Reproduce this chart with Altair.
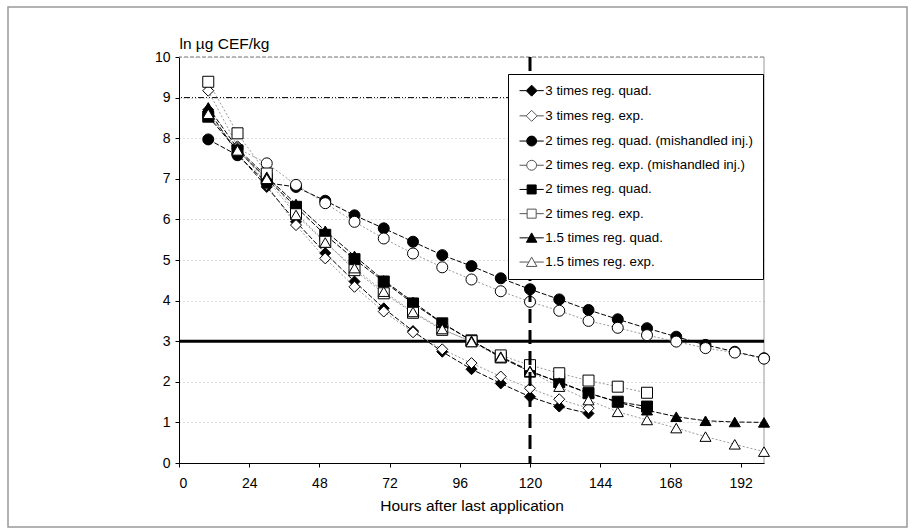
import altair as alt
import pandas as pd

FONT = "Liberation Sans"

series_names = [
    "3 times reg. quad.",
    "3 times reg. exp.",
    "2 times reg. quad. (mishandled inj.)",
    "2 times reg. exp. (mishandled inj.)",
    "2 times reg. quad.",
    "2 times reg. exp.",
    "1.5 times reg. quad.",
    "1.5 times reg. exp.",
]
series_kind = ["quad", "exp", "quad", "exp", "quad", "exp", "quad", "exp"]
series_group = [0, 0, 1, 1, 2, 2, 3, 3]
group_shapes = ["diamond", "circle", "square", "triangle-up"]
marker_fills = ["black", "white", "black", "white", "black", "white", "black", "white"]
legend_strokes = ["black", "#555555", "black", "#555555", "black", "#555555", "black", "#555555"]
legend_paths = [
    "M-2.2,0H-1M1,0H2.2M0,-1L1,0L0,1L-1,0Z",
    "M-2.2,0H-1M1,0H2.2M0,-1L1,0L0,1L-1,0Z",
    "M-2.2,0H-0.9M0.9,0H2.2M0.9,0A0.9,0.9,0,1,1,-0.9,0A0.9,0.9,0,1,1,0.9,0Z",
    "M-2.2,0H-0.9M0.9,0H2.2M0.9,0A0.9,0.9,0,1,1,-0.9,0A0.9,0.9,0,1,1,0.9,0Z",
    "M-2.2,0H-0.82M0.82,0H2.2M-0.82,-0.82H0.82V0.82H-0.82Z",
    "M-2.2,0H-0.82M0.82,0H2.2M-0.82,-0.82H0.82V0.82H-0.82Z",
    "M-2.2,0H-0.5M0.5,0H2.2M0,-0.9L0.95,0.8H-0.95Z",
    "M-2.2,0H-0.5M0.5,0H2.2M0,-0.9L0.95,0.8H-0.95Z",
]

hours_to_140 = [10, 20, 30, 40, 50, 60, 70, 80, 90, 100, 110, 120, 130, 140]
hours_to_160 = [10, 20, 30, 40, 50, 60, 70, 80, 90, 100, 110, 120, 130, 140, 150, 160]
hours_to_200 = [10, 20, 30, 40, 50, 60, 70, 80, 90, 100, 110, 120, 130, 140, 150, 160, 170, 180, 190, 200]

vals_3_quad = [8.70, 7.62, 6.80, 5.94, 5.17, 4.47, 3.81, 3.25, 2.74, 2.31, 1.96, 1.63, 1.39, 1.22]
vals_3_exp = [9.17, 7.80, 6.85, 5.86, 5.04, 4.34, 3.73, 3.22, 2.80, 2.46, 2.13, 1.84, 1.57, 1.35]
vals_2m_quad = [7.97, 7.58, 6.90, 6.80, 6.46, 6.10, 5.78, 5.45, 5.12, 4.85, 4.55, 4.28, 4.03, 3.77,
                3.54, 3.32, 3.11, 2.91, 2.74, 2.58]
vals_2m_exp = [8.55, 7.75, 7.38, 6.85, 6.40, 5.94, 5.53, 5.16, 4.82, 4.52, 4.23, 3.97, 3.75, 3.50,
               3.33, 3.15, 2.99, 2.83, 2.72, 2.57]
vals_2_quad = [8.53, 7.70, 7.00, 6.31, 5.62, 5.02, 4.47, 3.93, 3.44, 3.02, 2.60, 2.25, 2.00, 1.72, 1.51, 1.39]
vals_2_exp = [9.39, 8.12, 7.13, 6.15, 5.45, 4.75, 4.18, 3.70, 3.28, 3.00, 2.65, 2.41, 2.21, 2.03, 1.88, 1.73]
vals_15_quad = [8.76, 7.75, 7.05, 6.38, 5.72, 5.10, 4.50, 3.97, 3.45, 3.01, 2.62, 2.27, 1.98, 1.72,
                1.50, 1.30, 1.14, 1.04, 1.01, 1.00]
vals_15_exp = [8.60, 7.70, 7.00, 6.11, 5.43, 4.80, 4.22, 3.72, 3.30, 2.98, 2.60, 2.25, 1.88, 1.55,
               1.26, 1.06, 0.86, 0.65, 0.46, 0.28]

x_ticks = [0, 24, 48, 72, 96, 120, 144, 168, 192]
y_ticks = [0, 1, 2, 3, 4, 5, 6, 7, 8, 9, 10]
limit_level = [3]
dotted_level = [9]
top_level = [10]
right_edge = [200]
time_mark = [120]

series_hours = [hours_to_140, hours_to_140, hours_to_200, hours_to_200,
                hours_to_160, hours_to_160, hours_to_200, hours_to_200]
series_vals = [vals_3_quad, vals_3_exp, vals_2m_quad, vals_2m_exp,
               vals_2_quad, vals_2_exp, vals_15_quad, vals_15_exp]

rows = []
for i, name in enumerate(series_names):
    for h, v in zip(series_hours[i], series_vals[i]):
        rows.append({"series": name, "kind": series_kind[i], "grp": series_group[i], "hours": h, "v": v})
df = pd.DataFrame(rows)

xscale = alt.Scale(domain=[0, 200], nice=False, zero=False)
yscale = alt.Scale(domain=[0, 10], nice=False)

xaxis = alt.Axis(values=x_ticks, grid=False, domainColor="black", tickColor="black", tickSize=4,
                 labelFont=FONT, labelFontSize=14, labelColor="black", labelPadding=9,
                 title="Hours after last application", titleFont=FONT, titleFontSize=15.5,
                 titleFontWeight="normal", titleColor="black", titlePadding=8)
yaxis = alt.Axis(values=y_ticks, grid=True, gridColor="#bbbbbb", gridDash=[1, 3], gridWidth=1,
                 domainColor="black", tickColor="black", tickSize=4,
                 labelFont=FONT, labelFontSize=14, labelColor="black", labelPadding=5,
                 title="ln µg CEF/kg", titleFont=FONT, titleFontSize=15.5, titleFontWeight="normal",
                 titleColor="black", titleAngle=0, titleAlign="left", titleBaseline="alphabetic",
                 titleX=0, titleY=-9)

X = alt.X("hours:Q", scale=xscale, axis=xaxis)
Y = alt.Y("v:Q", scale=yscale, axis=yaxis)

base = alt.Chart(df)

top_border = alt.Chart(pd.DataFrame({"v": top_level})).mark_rule(
    color="#777777", strokeWidth=1, strokeDash=[4, 2]).encode(y=Y)
right_border = alt.Chart(pd.DataFrame({"hours": right_edge})).mark_rule(
    color="#999999", strokeWidth=1).encode(x=X)
line9 = alt.Chart(pd.DataFrame({"v": dotted_level})).mark_rule(
    color="black", strokeWidth=1, strokeDash=[6, 2, 1, 2, 1, 2]).encode(y=Y)
line3 = alt.Chart(pd.DataFrame({"v": limit_level})).mark_rule(
    color="black", strokeWidth=3).encode(y=Y)
vline = alt.Chart(pd.DataFrame({"hours": time_mark})).mark_rule(
    color="black", strokeWidth=3, strokeDash=[14, 7]).encode(x=X)

exp_lines = base.transform_filter(alt.datum.kind == "exp").mark_line(
    color="#9a9a9a", strokeWidth=1, strokeDash=[2, 2]).encode(x=X, y=Y, detail="series:N")
quad_lines = base.transform_filter(alt.datum.kind == "quad").mark_line(
    color="black", strokeWidth=1, strokeDash=[5, 2]).encode(x=X, y=Y, detail="series:N")

fill_scale = alt.Scale(domain=series_names, range=marker_fills)

legend_def = alt.Legend(title=None, orient="none", legendX=329, legendY=17, padding=10,
                        fillColor="white", strokeColor="black", symbolSize=121,
                        symbolStrokeWidth=1, symbolOffset=7,
                        labelOffset=7, labelFont=FONT, labelFontSize=13.3, labelColor="black",
                        labelLimit=400, rowPadding=9.2)

point_layers = []
for g, shp in enumerate(group_shapes):
    point_layers.append(
        base.transform_filter(alt.datum.grp == g).mark_point(
            shape=shp, filled=True, size=121, stroke="black", strokeWidth=1, opacity=1).encode(
            x=X, y=Y,
            fill=alt.Fill("series:N", scale=fill_scale, legend=legend_def),
        )
    )

legend_layer = base.transform_filter("false").mark_point(
    filled=True, size=121, strokeWidth=1, opacity=1).encode(
    x=X, y=Y,
    shape=alt.Shape("series:N", scale=alt.Scale(domain=series_names, range=legend_paths), legend=legend_def),
    fill=alt.Fill("series:N", scale=fill_scale, legend=legend_def),
    stroke=alt.Stroke("series:N", scale=alt.Scale(domain=series_names, range=legend_strokes), legend=legend_def),
)

frame = alt.Chart(pd.DataFrame({"f": [0]})).mark_rect(
    fillOpacity=0, stroke="#999999", strokeWidth=1.5).encode(
    x=alt.value(-171), x2=alt.value(728), y=alt.value(-50), y2=alt.value(470))

chart = alt.layer(
    top_border, right_border, line9, line3, exp_lines, quad_lines, *point_layers, vline, legend_layer, frame
).properties(
    width=585, height=406,
    padding={"left": 179, "top": 57, "right": 152, "bottom": 69},
    autosize=alt.AutoSizeParams(type="none"),
    background="white",
).configure_view(strokeWidth=0)

chart.save("out.html", embed_options={"renderer": "svg", "actions": False})
